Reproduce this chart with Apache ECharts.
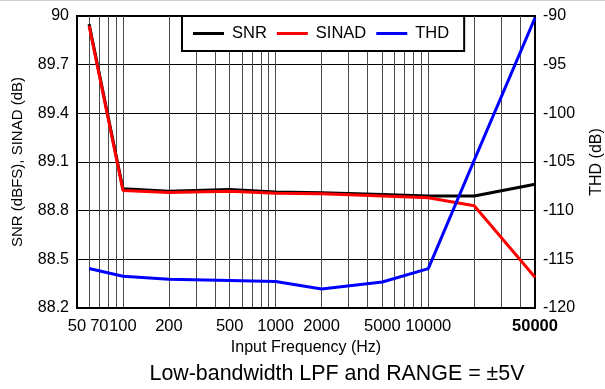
<!DOCTYPE html>
<html>
<head>
<meta charset="utf-8">
<script src="https://cdn.jsdelivr.net/npm/echarts@6/dist/echarts.min.js"></script>
<style>
  html, body { margin: 0; padding: 0; background: #fff; }
  #chart { width: 605px; height: 389px; }
</style>
</head>
<body>
<div id="chart"></div>
<script>
// ---- data ----
var freqs = [60, 100, 200, 500, 1000, 2000, 5000, 10000, 20000, 50000];
var snr   = [89.95, 88.935, 88.92, 88.93, 88.915, 88.91, 88.90, 88.89, 88.89, 88.963];
var sinad = [89.94, 88.925, 88.912, 88.92, 88.908, 88.905, 88.89, 88.879, 88.83, 88.39];
var thd   = [-115.95, -116.74, -117.05, -117.18, -117.28, -118.05, -117.33, -115.95, -104.8, -90.2];

var xLabelValues = [50, 70, 100, 200, 500, 1000, 2000, 5000, 10000, 50000];
var xGridValues = [50, 60, 70, 80, 90, 100, 200, 300, 400, 500, 600, 700, 800, 900,
                   1000, 2000, 3000, 4000, 5000, 6000, 7000, 8000, 9000,
                   10000, 20000, 30000, 40000, 50000];
var leftMin = 88.2, leftMax = 90, leftStep = 0.3;
var rightMin = -120, rightMax = -90, rightStep = 5;

var seriesNames = ['SNR', 'SINAD', 'THD'];
var seriesColors = ['#000000', '#ff0000', '#0000ff'];

function pairs(xs, ys) { return xs.map(function (x, i) { return [x, ys[i]]; }); }

var FONT = 'Liberation Sans, Arial, sans-serif';
var chart = echarts.init(document.getElementById('chart'), null, { renderer: 'canvas' });

chart.setOption({
  backgroundColor: '#ffffff',
  animation: false,
  textStyle: { fontFamily: FONT, color: '#000' },
  graphic: [{
    type: 'line', silent: true,
    shape: { x1: 0, y1: 0.5, x2: 605, y2: 0.5 },
    style: { stroke: '#cfcfcf', lineWidth: 1 }
  }],
  title: {
    text: 'Low-bandwidth LPF and RANGE = \u00b15V',
    left: 332, top: 359, textAlign: 'center',
    textStyle: { fontFamily: FONT, fontSize: 21.4, fontWeight: 'normal', color: '#000' }
  },
  legend: {
    left: 182, top: 16,
    padding: [9, 15, 9, 11],
    itemGap: 10,
    itemWidth: 31, itemHeight: 3,
    icon: 'rect',
    backgroundColor: '#ffffff',
    borderColor: '#000', borderWidth: 2,
    textStyle: { fontFamily: FONT, fontSize: 16.5, color: '#000', lineHeight: 16, padding: [0, 0, 0, 3] },
    data: seriesNames
  },
  grid: {
    left: 77, right: 70, top: 16, bottom: 81,
    show: true, borderColor: '#000', borderWidth: 2,
    containLabel: false,
    outerBoundsMode: 'none'
  },
  xAxis: {
    type: 'log', logBase: 10, min: 50, max: 50000,
    name: 'Input Frequency (Hz)', nameLocation: 'middle', nameGap: 29,
    nameTextStyle: { fontFamily: FONT, fontSize: 16, color: '#000' },
    axisLine: { show: true, lineStyle: { color: '#000', width: 2 } },
    axisTick: { show: false, customValues: xGridValues },
    splitLine: { show: true, lineStyle: { color: '#4a4a4a', width: 1 } },
    axisLabel: {
      customValues: xLabelValues,
      margin: 10,
      fontFamily: FONT, fontSize: 16.5, color: '#000',
      formatter: function (v) {
        var r = Math.round(v);
        return r === 50000 ? '{b|' + r + '}' : String(r);
      },
      rich: { b: { fontFamily: FONT, fontSize: 16.5, fontWeight: 'bold', color: '#000' } }
    }
  },
  yAxis: [{
    type: 'value', min: leftMin, max: leftMax, interval: leftStep,
    position: 'left',
    name: 'SNR (dBFS), SINAD (dB)', nameLocation: 'middle', nameGap: 52, nameRotate: 90,
    nameTextStyle: { fontFamily: FONT, fontSize: 15, color: '#000' },
    axisLine: { show: true, lineStyle: { color: '#000', width: 2 } },
    axisTick: { show: false },
    splitLine: { show: true, lineStyle: { color: '#000', width: 1 } },
    axisLabel: {
      margin: 8, fontFamily: FONT, fontSize: 16, color: '#000',
      formatter: function (v) { return (Math.round(v * 10) / 10).toString(); }
    }
  }, {
    type: 'value', min: rightMin, max: rightMax, interval: rightStep,
    position: 'right',
    name: 'THD (dB)', nameLocation: 'middle', nameGap: 54, nameRotate: 90,
    nameTextStyle: { fontFamily: FONT, fontSize: 16, color: '#000' },
    axisLine: { show: true, lineStyle: { color: '#000', width: 2 } },
    axisTick: { show: false },
    splitLine: { show: false },
    axisLabel: { margin: 8, fontFamily: FONT, fontSize: 16, color: '#000' }
  }],
  series: [
    { name: seriesNames[0], type: 'line', yAxisIndex: 0, data: pairs(freqs, snr),
      symbol: 'none', color: seriesColors[0], lineStyle: { width: 3, color: seriesColors[0] } },
    { name: seriesNames[1], type: 'line', yAxisIndex: 0, data: pairs(freqs, sinad),
      symbol: 'none', color: seriesColors[1], lineStyle: { width: 3, color: seriesColors[1] } },
    { name: seriesNames[2], type: 'line', yAxisIndex: 1, data: pairs(freqs, thd),
      symbol: 'none', color: seriesColors[2], lineStyle: { width: 3, color: seriesColors[2] } }
  ]
});
</script>
</body>
</html>
